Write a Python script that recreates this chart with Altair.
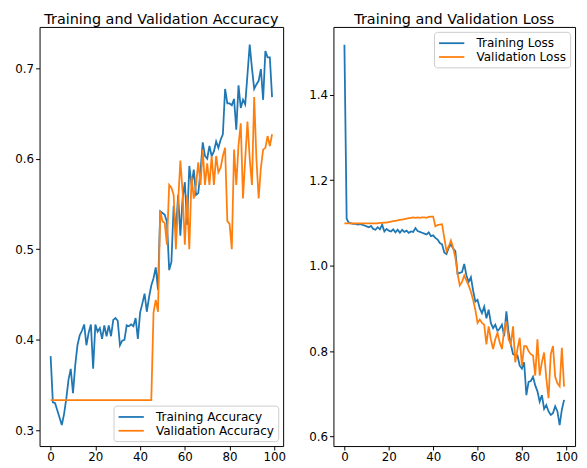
import altair as alt
import pandas as pd

epochs = list(range(100))

train_acc = [
    0.382, 0.331, 0.330, 0.322, 0.314, 0.306, 0.318, 0.335, 0.356, 0.368,
    0.341, 0.372, 0.394, 0.405, 0.410, 0.417, 0.394, 0.408, 0.417, 0.368,
    0.417, 0.409, 0.413, 0.401, 0.416, 0.404, 0.416, 0.404, 0.422, 0.424,
    0.421, 0.394, 0.399, 0.400, 0.416, 0.415, 0.417, 0.415, 0.424, 0.401,
    0.430, 0.440, 0.451, 0.431, 0.447, 0.460, 0.468, 0.480, 0.455, 0.542,
    0.540, 0.538, 0.530, 0.477, 0.486, 0.548, 0.520, 0.560, 0.515, 0.556,
    0.574, 0.527, 0.592, 0.571, 0.588, 0.560, 0.562, 0.586, 0.618, 0.603,
    0.600, 0.614, 0.603, 0.608, 0.619, 0.612, 0.621, 0.627, 0.677, 0.661,
    0.661, 0.659, 0.666, 0.632, 0.681, 0.656, 0.665, 0.660, 0.693, 0.726,
    0.700, 0.677, 0.682, 0.686, 0.699, 0.665, 0.719, 0.712, 0.712, 0.668,
]

val_acc = [0.3333] * 46 + [
    0.430, 0.444, 0.431, 0.542,
    0.531, 0.529, 0.505, 0.571, 0.568, 0.560, 0.500, 0.552, 0.598, 0.563,
    0.505, 0.560, 0.500, 0.580, 0.556, 0.571, 0.596, 0.571, 0.610, 0.571,
    0.595, 0.571, 0.603, 0.571, 0.603, 0.585, 0.590, 0.603, 0.612, 0.531,
    0.528, 0.500, 0.610, 0.571, 0.615, 0.639, 0.556, 0.600, 0.641, 0.600,
    0.571, 0.668, 0.600, 0.556, 0.590, 0.610, 0.612, 0.625, 0.614, 0.627,
]

train_loss = [
    1.517, 1.110, 1.100, 1.099, 1.098, 1.098, 1.096, 1.097, 1.096, 1.094,
    1.092, 1.090, 1.093, 1.086, 1.084, 1.090, 1.085, 1.096, 1.080, 1.086,
    1.082, 1.080, 1.085, 1.078, 1.084, 1.077, 1.084, 1.079, 1.082, 1.077,
    1.080, 1.079, 1.088, 1.081, 1.079, 1.077, 1.075, 1.073, 1.078, 1.069,
    1.071, 1.065, 1.061, 1.053, 1.050, 1.031, 1.027, 1.042, 1.050, 1.040,
    1.034, 0.981, 0.983, 0.985, 1.004, 0.977, 0.962, 0.973, 0.942, 0.916,
    0.920, 0.900, 0.889, 0.904, 0.877, 0.897, 0.866, 0.854, 0.862, 0.847,
    0.853, 0.862, 0.835, 0.893, 0.843, 0.816, 0.793, 0.790, 0.790, 0.766,
    0.759, 0.774, 0.697, 0.728, 0.730, 0.740, 0.720, 0.706, 0.682, 0.697,
    0.665, 0.674, 0.659, 0.651, 0.655, 0.671, 0.659, 0.627, 0.663, 0.686,
]

val_loss = [
    1.099, 1.099, 1.099, 1.099, 1.099, 1.099, 1.099, 1.099, 1.099, 1.099,
    1.099, 1.099, 1.099, 1.099, 1.099, 1.099, 1.100, 1.100, 1.101, 1.101,
    1.102, 1.103, 1.104, 1.105, 1.106, 1.107, 1.108, 1.109, 1.110, 1.111,
    1.112, 1.113, 1.112, 1.113, 1.112, 1.113, 1.113, 1.112, 1.114, 1.115,
    1.115, 1.092, 1.095, 1.096, 1.097, 1.065, 1.034, 1.045, 1.059, 1.042,
    1.019, 0.981, 0.954, 0.962, 0.977, 0.965, 0.954, 0.939, 0.920, 0.897,
    0.866, 0.874, 0.866, 0.862, 0.816, 0.858, 0.828, 0.805, 0.828, 0.843,
    0.820, 0.805, 0.850, 0.870, 0.828, 0.816, 0.858, 0.774, 0.805, 0.831,
    0.766, 0.812, 0.812, 0.800, 0.793, 0.790, 0.743, 0.828, 0.743, 0.774,
    0.797, 0.736, 0.690, 0.793, 0.812, 0.740, 0.725, 0.718, 0.808, 0.717,
]

acc_names = ["Training Accuracy", "Validation Accuracy"]
loss_names = ["Training Loss", "Validation Loss"]
acc_ticks = [0.3, 0.4, 0.5, 0.6, 0.7]
loss_ticks = [0.6, 0.8, 1.0, 1.2, 1.4]
x_ticks = [0, 20, 40, 60, 80, 100]

acc_df = pd.DataFrame({
    "epoch": epochs + epochs,
    "value": train_acc + val_acc,
    "series": [acc_names[0]] * 100 + [acc_names[1]] * 100,
})
loss_df = pd.DataFrame({
    "epoch": epochs + epochs,
    "value": train_loss + val_loss,
    "series": [loss_names[0]] * 100 + [loss_names[1]] * 100,
})

FONT = "DejaVu Sans"
PLOT_H = 425


def panel(df, names, title, ydom, yvals, orient, width):
    return alt.Chart(
        df,
        title=alt.TitleParams(title, fontSize=14.6, font=FONT, fontWeight="normal",
                              color="black", offset=0),
    ).mark_line(strokeWidth=1.8).encode(
        x=alt.X("epoch:Q",
                scale=alt.Scale(domain=[-4.95, 103.95], nice=False, zero=False),
                axis=alt.Axis(values=x_ticks, title=None, format="d")),
        y=alt.Y("value:Q",
                scale=alt.Scale(domain=ydom, nice=False, zero=False),
                axis=alt.Axis(values=yvals, title=None, format=".1f")),
        color=alt.Color("series:N",
                        scale=alt.Scale(domain=names, range=["#1f77b4", "#ff7f0e"]),
                        sort=names,
                        legend=alt.Legend(
                            title=None, orient=orient, offset=5,
                            fillColor="white", strokeColor="#cccccc",
                            cornerRadius=3, padding=4,
                            symbolType="M-1,0H3", symbolSize=164,
                            symbolStrokeWidth=1.8, labelOffset=24,
                            labelFontSize=12.2, labelFont=FONT, labelColor="black",
                            rowPadding=0)),
        order="series:N",
    ).properties(width=width, height=PLOT_H)


left = panel(acc_df, acc_names, "Training and Validation Accuracy",
             [0.2827, 0.7455], acc_ticks, "bottom-right", 247)
right = panel(loss_df, loss_names, "Training and Validation Loss",
              [0.578, 1.5586], loss_ticks, "top-right", 245)

chart = alt.hconcat(left, right, spacing=22).resolve_scale(
    color="independent"
).resolve_legend(color="independent").properties(
    padding={"left": 6, "top": 0, "right": 0, "bottom": -3}
).configure(font=FONT).configure_view(
    stroke="black", strokeWidth=1
).configure_axis(
    domain=False, grid=False, ticks=True, tickColor="black", tickSize=4,
    labelFontSize=12, labelColor="black", labelFont=FONT, labelPadding=2,
    minExtent=0,
)

chart.save("out.html", embed_options={"renderer": "svg", "actions": False})
